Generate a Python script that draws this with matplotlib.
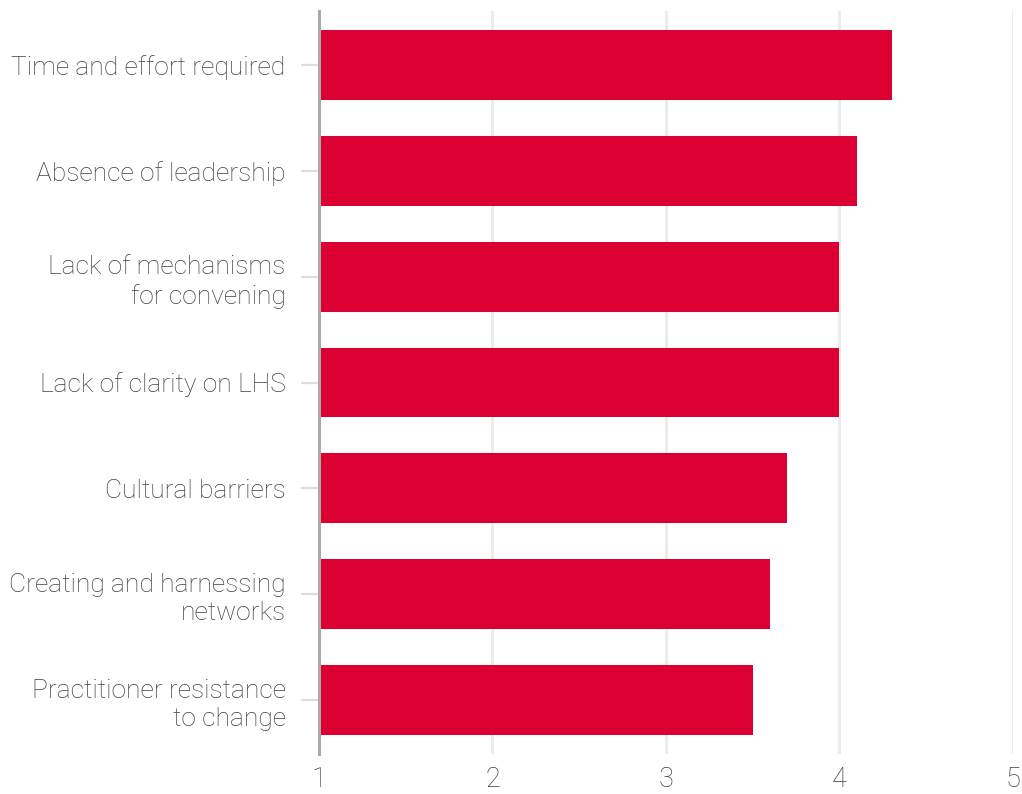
import matplotlib
matplotlib.use("Agg")
import matplotlib.pyplot as plt

categories = [
    "Time and effort required",
    "Absence of leadership",
    "Lack of mechanisms\nfor convening",
    "Lack of clarity on LHS",
    "Cultural barriers",
    "Creating and harnessing\nnetworks",
    "Practitioner resistance\nto change",
]
scores = [4.3, 4.1, 4.0, 4.0, 3.7, 3.6, 3.5]
x_ticks = [1, 2, 3, 4, 5]

BAR_COLOR = "#DC0032"
TEXT_COLOR = "#404040"

plt.rcParams["font.family"] = ["Roboto", "DejaVu Sans"]

fig = plt.figure(figsize=(10.22, 7.94), dpi=100)
ax = fig.add_axes([0.3121, 0.0504, 0.6791, 0.9357])

positions = list(range(len(categories)))
ax.barh(positions, [s - 1 for s in scores], left=1, height=0.66,
        color=BAR_COLOR, zorder=3)

ax.set_xlim(1, 5)
ax.set_ylim(len(categories) - 0.49, -0.51)
ax.set_xticks(x_ticks)
ax.set_xticklabels([str(t) for t in x_ticks])
ax.set_yticks(positions)
ax.set_yticklabels(categories, linespacing=1.25)

ax.grid(axis="x", color="#ececec", linewidth=2.2, zorder=0)
ax.set_axisbelow(True)

for side in ("top", "right", "bottom"):
    ax.spines[side].set_visible(False)
ax.spines["left"].set_color("#aaaaaa")
ax.spines["left"].set_linewidth(2.2)
ax.spines["left"].set_zorder(4)

ax.tick_params(axis="y", length=13, width=1.6, color="#dddddd", pad=11,
               labelsize=19, labelcolor=TEXT_COLOR)
ax.tick_params(axis="x", length=0, pad=9, labelsize=19.5, labelcolor=TEXT_COLOR)
for lab in ax.get_yticklabels() + ax.get_xticklabels():
    lab.set_fontweight("light")

fig.savefig("out.png", dpi=100, facecolor="white")
